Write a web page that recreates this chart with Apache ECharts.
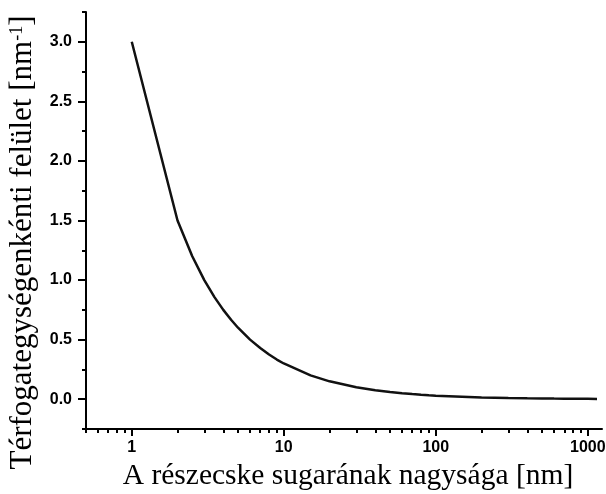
<!DOCTYPE html>
<html>
<head>
<meta charset="utf-8">
<script src="https://cdn.jsdelivr.net/npm/echarts@6/dist/echarts.min.js"></script>
<style>html,body{margin:0;padding:0;background:#fff}#c{width:606px;height:494px}</style>
</head>
<body>
<div id="c"></div>
<script>
// Data
var radii = [1, 2, 2.5, 3, 3.5, 4, 4.5, 5, 6, 7, 8, 9, 10, 15, 20, 30, 40, 50, 60, 70, 80, 90, 100, 200, 300, 400, 500, 600, 700, 800, 900, 1000, 1150];
var surface = [3.0, 1.5, 1.2, 1.0, 0.857, 0.75, 0.667, 0.6, 0.5, 0.43, 0.375, 0.333, 0.3, 0.2, 0.15, 0.1, 0.075, 0.06, 0.05, 0.043, 0.0375, 0.033, 0.03, 0.015, 0.01, 0.0075, 0.006, 0.005, 0.0043, 0.0038, 0.0033, 0.003, 0.0026];
var xMajorTicks = [1, 10, 100, 1000];
var xMinorTicks = [0.5, 0.6, 0.7, 0.8, 0.9, 2, 3, 4, 5, 6, 7, 8, 9, 20, 30, 40, 50, 60, 70, 80, 90, 200, 300, 400, 500, 600, 700, 800, 900];
var yMajorTicks = [0, 0.5, 1.0, 1.5, 2.0, 2.5, 3.0];
var yMinorTicks = [-0.25, 0.25, 0.75, 1.25, 1.75, 2.25, 2.75, 3.25];
var xTitle = 'A részecske sugarának nagysága [nm]';
var yTitleMain = 'Térfogategységenkénti felület [nm';
var yTitleSup = '-1';

var points = radii.map(function (r, i) { return [r, surface[i]]; });
var chart = echarts.init(document.getElementById('c'), null, {renderer: 'canvas'});
var labelFont = {fontFamily: '"Liberation Sans", Arial, sans-serif', fontWeight: 'bold', fontSize: 16, color: '#000'};
var serif = '"Liberation Serif", "Times New Roman", serif';
var xMin = 0.5, xMax = 1240, yMin = -0.25, yMax = 3.25;

chart.setOption({
  animation: false,
  backgroundColor: '#fff',
  grid: {left: 86, right: 4, top: 12, bottom: 65, containLabel: false, outerBoundsMode: 'none'},
  xAxis: [{
    type: 'log', logBase: 10, min: xMin, max: xMax, position: 'bottom',
    axisLine: {show: true, onZero: false, lineStyle: {color: '#000', width: 2}},
    axisTick: {show: true, inside: false, length: 7, customValues: xMajorTicks, lineStyle: {color: '#000', width: 2}},
    axisLabel: Object.assign({show: true, margin: 11, customValues: xMajorTicks, formatter: function (v) { return String(Math.round(v)); }}, labelFont),
    splitLine: {show: false},
    name: xTitle, nameLocation: 'middle', nameGap: 32,
    nameTextStyle: {fontFamily: serif, fontSize: 29.5, color: '#000', padding: [0, 0, 0, 8]}
  }, {
    type: 'log', logBase: 10, min: xMin, max: xMax, position: 'bottom',
    axisLine: {show: false, onZero: false},
    axisTick: {show: true, inside: false, length: 4, customValues: xMinorTicks, lineStyle: {color: '#000', width: 2}},
    axisLabel: {show: false},
    splitLine: {show: false}
  }],
  yAxis: [{
    type: 'value', min: yMin, max: yMax, position: 'left',
    axisLine: {show: true, onZero: false, lineStyle: {color: '#000', width: 2}},
    axisTick: {show: true, inside: false, length: 8, customValues: yMajorTicks, lineStyle: {color: '#000', width: 2}},
    axisLabel: Object.assign({show: true, margin: 14, customValues: yMajorTicks, formatter: function (v) { return v.toFixed(1); }}, labelFont),
    splitLine: {show: false},
    name: '{a|' + yTitleMain + '}{s|' + yTitleSup + '}{a|]}',
    nameLocation: 'middle', nameRotate: 90, nameGap: 46,
    nameTextStyle: {
      fontFamily: serif, fontSize: 31, color: '#000',
      padding: [0, 44, 0, 0],
      rich: {
        a: {fontFamily: serif, fontSize: 31, color: '#000'},
        s: {fontFamily: serif, fontSize: 18, color: '#000', verticalAlign: 'top', padding: [0, 0, 12, 0]}
      }
    }
  }, {
    type: 'value', min: yMin, max: yMax, position: 'left',
    axisLine: {show: false, onZero: false},
    axisTick: {show: true, inside: false, length: 4, customValues: yMinorTicks, lineStyle: {color: '#000', width: 2}},
    axisLabel: {show: false},
    splitLine: {show: false}
  }],
  series: [{
    type: 'line', xAxisIndex: 0, yAxisIndex: 0,
    data: points, showSymbol: false, smooth: false,
    lineStyle: {color: '#111', width: 2.5}
  }]
});
</script>
</body>
</html>
